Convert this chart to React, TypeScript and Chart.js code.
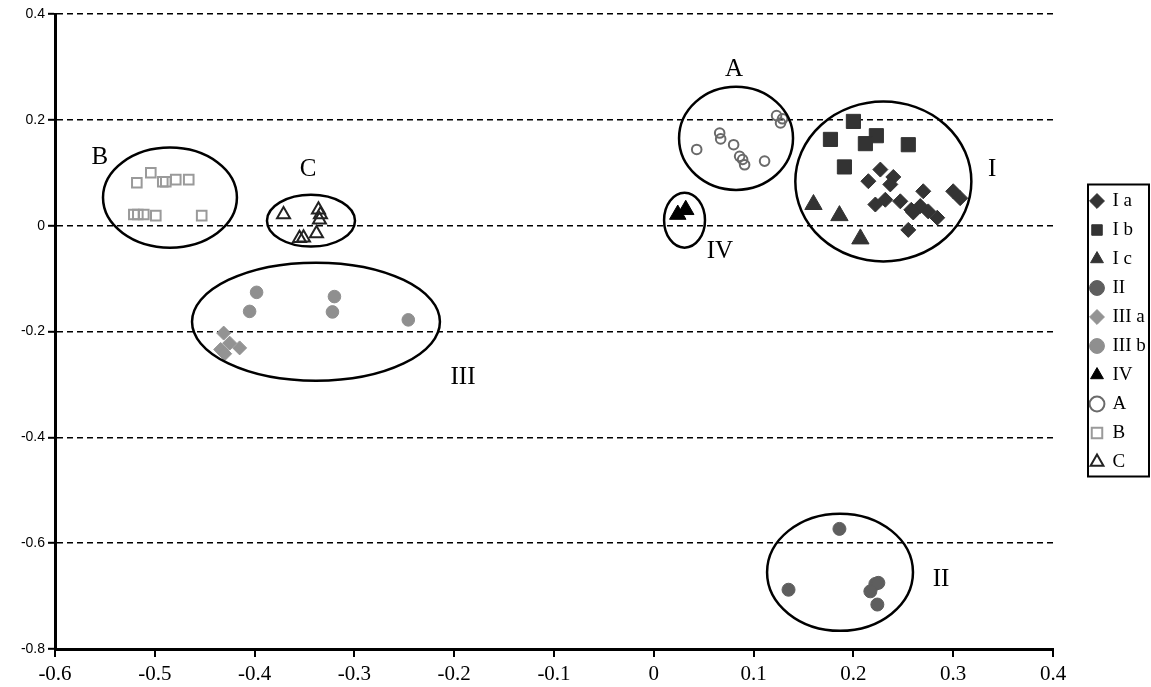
import { useEffect, useRef } from 'react';
import { Chart, registerables } from 'chart.js';

Chart.register(...registerables);

// ---------- data ----------
const X_TICKS = [-0.6, -0.5, -0.4, -0.3, -0.2, -0.1, 0, 0.1, 0.2, 0.3, 0.4];
const Y_TICKS = [-0.8, -0.6, -0.4, -0.2, 0, 0.2, 0.4];

const SERIES_LABELS = ['I a', 'I b', 'I c', 'II', 'III a', 'III b', 'IV', 'A', 'B', 'C'];

const IA_POINTS = [
  [0.227, 0.106], [0.215, 0.084], [0.240, 0.092], [0.237, 0.078], [0.222, 0.040],
  [0.232, 0.049], [0.247, 0.046], [0.258, 0.030], [0.270, 0.065], [0.267, 0.037],
  [0.275, 0.027], [0.284, 0.015], [0.255, -0.008], [0.300, 0.065], [0.307, 0.052],
  [0.260, 0.025],
];
const IB_POINTS = [[0.200, 0.197], [0.177, 0.163], [0.223, 0.170], [0.212, 0.155], [0.255, 0.153], [0.191, 0.111]];
const IC_POINTS = [[0.160, 0.040], [0.186, 0.019], [0.207, -0.025]];
const II_POINTS = [[0.186, -0.573], [0.135, -0.688], [0.222, -0.677], [0.225, -0.675], [0.217, -0.691], [0.224, -0.716]];
const IIIA_POINTS = [[-0.431, -0.203], [-0.434, -0.234], [-0.425, -0.222], [-0.415, -0.231], [-0.430, -0.242]];
const IIIB_POINTS = [[-0.398, -0.126], [-0.405, -0.162], [-0.320, -0.134], [-0.322, -0.163], [-0.246, -0.178]];
const IV_POINTS = [[0.024, 0.021], [0.032, 0.030]];
const A_POINTS = [
  [0.043, 0.144], [0.066, 0.175], [0.067, 0.164], [0.080, 0.153], [0.086, 0.131], [0.089, 0.125],
  [0.091, 0.115], [0.111, 0.122], [0.123, 0.208], [0.127, 0.194], [0.129, 0.202],
];
const B_POINTS = [
  [-0.518, 0.081], [-0.504, 0.100], [-0.492, 0.083], [-0.489, 0.083], [-0.479, 0.087], [-0.466, 0.087],
  [-0.521, 0.021], [-0.517, 0.021], [-0.511, 0.021], [-0.499, 0.019], [-0.453, 0.019],
];
const C_POINTS = [[-0.371, 0.021], [-0.336, 0.030], [-0.334, 0.021], [-0.335, 0.011], [-0.355, -0.024], [-0.351, -0.023], [-0.338, -0.015]];

const SERIES_POINTS = [IA_POINTS, IB_POINTS, IC_POINTS, II_POINTS, IIIA_POINTS, IIIB_POINTS, IV_POINTS, A_POINTS, B_POINTS, C_POINTS];

// cluster outlines (data units) and their labels
const CLUSTER_NAMES = ['I', 'II', 'III', 'IV', 'A', 'B', 'C'];
const CLUSTER_CENTERS = [[0.230, 0.0835], [0.1866, -0.655], [-0.3385, -0.1815], [0.0308, 0.0104], [0.0824, 0.165], [-0.4848, 0.053], [-0.3435, 0.0095]];
const CLUSTER_RADII = [[0.0882, 0.151], [0.0731, 0.1106], [0.1242, 0.1115], [0.0205, 0.052], [0.0571, 0.0974], [0.0671, 0.0945], [0.0441, 0.049]];
const CLUSTER_LABEL_POS = [[0.339, 0.106], [0.2878, -0.669], [-0.1912, -0.287], [0.0663, -0.049], [0.0804, 0.295], [-0.555, 0.1285], [-0.3465, 0.106]];

// ---------- styles ----------
const SERIES_STYLES = [
  { pointStyle: 'rectRot', radius: 7.5, bg: '#333333', border: '#333333', bw: 1 },
  { pointStyle: 'rect', radius: 10, bg: '#333333', border: '#333333', bw: 1 },
  { pointStyle: 'triangle', radius: 10, bg: '#333333', border: '#333333', bw: 1 },
  { pointStyle: 'circle', radius: 6.5, bg: '#5e5e5e', border: '#5e5e5e', bw: 1 },
  { pointStyle: 'rectRot', radius: 7, bg: '#939393', border: '#939393', bw: 1 },
  { pointStyle: 'circle', radius: 6.3, bg: '#8f8f8f', border: '#8f8f8f', bw: 1 },
  { pointStyle: 'triangle', radius: 9.5, bg: '#000000', border: '#000000', bw: 1 },
  { pointStyle: 'circle', radius: 4.8, bg: 'rgba(0,0,0,0)', border: '#6a6a6a', bw: 2 },
  { pointStyle: 'rect', radius: 6.8, bg: 'rgba(0,0,0,0)', border: '#9a9a9a', bw: 2 },
  { pointStyle: 'triangle', radius: 7.5, bg: 'rgba(0,0,0,0)', border: '#222222', bw: 2 },
];

const fmtTick = (v: number) => {
  const n = Math.round(v * 10) / 10;
  return n === 0 ? '0' : String(n);
};

const clusterPlugin = {
  id: 'clusterEllipses',
  afterDatasetsDraw(chart: any) {
    const { ctx } = chart;
    const xs = chart.scales.x;
    const ys = chart.scales.y;
    ctx.save();
    ctx.strokeStyle = '#000';
    ctx.lineWidth = 2.5;
    CLUSTER_CENTERS.forEach((c, i) => {
      const cx = xs.getPixelForValue(c[0]);
      const cy = ys.getPixelForValue(c[1]);
      const rx = Math.abs(xs.getPixelForValue(c[0] + CLUSTER_RADII[i][0]) - cx);
      const ry = Math.abs(ys.getPixelForValue(c[1] + CLUSTER_RADII[i][1]) - cy);
      ctx.beginPath();
      ctx.ellipse(cx, cy, rx, ry, 0, 0, Math.PI * 2);
      ctx.stroke();
    });
    ctx.fillStyle = '#000';
    ctx.font = '25px "Liberation Serif", "Times New Roman", serif';
    ctx.textAlign = 'center';
    ctx.textBaseline = 'middle';
    CLUSTER_NAMES.forEach((name, i) => {
      const p = CLUSTER_LABEL_POS[i];
      ctx.fillText(name, xs.getPixelForValue(p[0]), ys.getPixelForValue(p[1]));
    });
    ctx.restore();
  },
};

const legendBorderPlugin = {
  id: 'legendBorder',
  afterDraw(chart: any) {
    const lg = chart.legend;
    if (!lg || !lg.legendHitBoxes || !lg.legendHitBoxes.length) return;
    const hb = lg.legendHitBoxes;
    const first = hb[0];
    const last = hb[hb.length - 1];
    const x1 = first.left - 3;
    const x2 = lg.left + lg.width - 2;
    const y1 = first.top - 7;
    const y2 = last.top + last.height + 5;
    const { ctx } = chart;
    ctx.save();
    ctx.strokeStyle = '#000';
    ctx.lineWidth = 2;
    ctx.strokeRect(x1, y1, x2 - x1, y2 - y1);
    ctx.restore();
  },
};

export default function App() {
  const canvasRef = useRef<HTMLCanvasElement | null>(null);

  useEffect(() => {
    if (!canvasRef.current) return;
    const datasets = SERIES_LABELS.map((label, i) => {
      const s = SERIES_STYLES[i];
      return {
        label,
        data: SERIES_POINTS[i].map((p) => ({ x: p[0], y: p[1] })),
        pointStyle: s.pointStyle,
        pointRadius: s.radius,
        pointHoverRadius: s.radius,
        backgroundColor: s.bg,
        borderColor: s.border,
        borderWidth: s.bw,
        showLine: false,
      };
    });

    const chart = new Chart(canvasRef.current, {
      type: 'scatter',
      data: { datasets: datasets as any },
      options: {
        animation: false,
        responsive: true,
        maintainAspectRatio: false,
        layout: { padding: { top: 14, left: 0, right: 0, bottom: 0 } },
        plugins: {
          tooltip: { enabled: false },
          legend: {
            display: true,
            position: 'right',
            fullSize: false,
            maxWidth: 70,
            labels: {
              usePointStyle: true,
              boxWidth: 12,
              boxHeight: 10.5,
              padding: 10,
              color: '#000',
              font: { family: '"Liberation Serif", "Times New Roman", serif', size: 19 },
            },
          },
        },
        scales: {
          x: {
            type: 'linear',
            min: -0.6,
            max: 0.4,
            afterBuildTicks: (scale: any) => {
              scale.ticks = X_TICKS.map((v) => ({ value: v }));
            },
            afterFit: (scale: any) => {
              scale.height = 38;
            },
            grid: {
              display: true,
              drawOnChartArea: false,
              drawTicks: true,
              tickLength: 8,
              color: '#000',
              lineWidth: 2,
              tickColor: '#000',
              tickWidth: 2,
            },
            border: { display: true, color: '#000', width: 3 },
            ticks: {
              color: '#000',
              padding: 5,
              autoSkip: false,
              maxRotation: 0,
              font: { family: '"Liberation Serif", "Times New Roman", serif', size: 21 },
              callback: (v: any) => fmtTick(Number(v)),
            },
          },
          y: {
            type: 'linear',
            position: 'left',
            min: -0.8,
            max: 0.4,
            afterBuildTicks: (scale: any) => {
              scale.ticks = Y_TICKS.map((v) => ({ value: v }));
            },
            afterFit: (scale: any) => {
              scale.width = 55;
            },
            grid: {
              display: true,
              drawOnChartArea: true,
              drawTicks: true,
              tickLength: 7,
              color: '#000',
              lineWidth: 1.6,
              tickColor: '#000',
              tickWidth: 2,
              tickBorderDash: [],
            },
            border: { display: true, color: '#000', width: 3, dash: [6, 4] },
            ticks: {
              color: '#000',
              padding: 3,
              autoSkip: false,
              font: { family: '"Liberation Sans", Arial, sans-serif', size: 14 },
              callback: (v: any) => fmtTick(Number(v)),
            },
          },
          y2: {
            type: 'linear',
            position: 'right',
            display: true,
            grid: { display: false, drawTicks: false, drawOnChartArea: false },
            border: { display: false },
            ticks: { display: false },
            afterFit: (scale: any) => {
              scale.width = 28;
            },
          },
        },
      },
      plugins: [clusterPlugin, legendBorderPlugin],
    } as any);

    return () => chart.destroy();
  }, []);

  return (
    <div style={{ position: 'absolute', left: 0, top: 0, width: 1151, height: 687, background: '#fff' }}>
      <canvas ref={canvasRef} />
    </div>
  );
}
